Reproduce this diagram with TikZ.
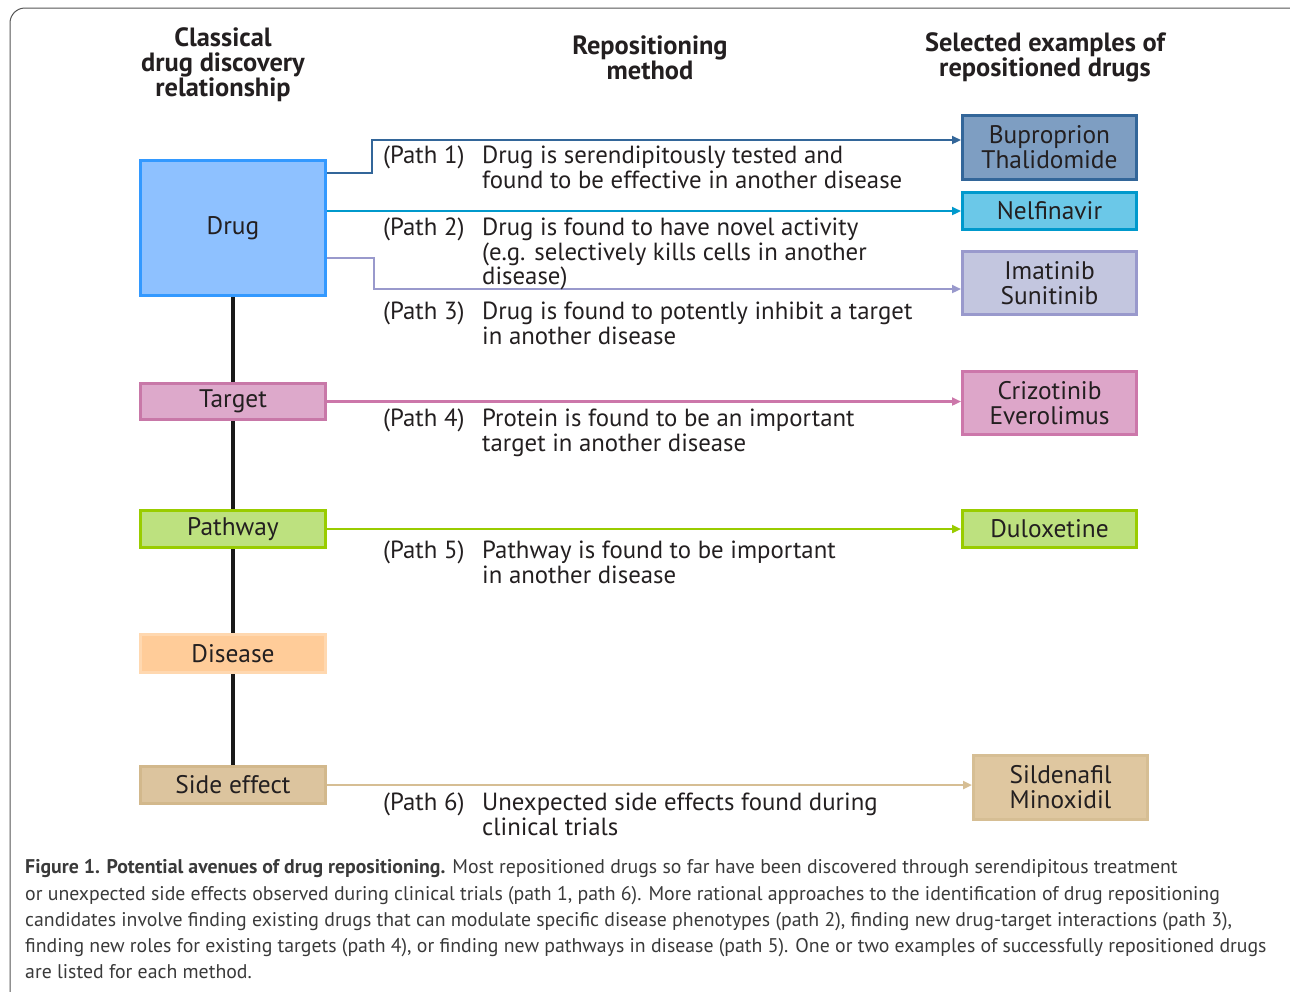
\documentclass[tikz,border=0pt]{standalone}
\usepackage{fontspec}
\setmainfont{PT Sans}
\usetikzlibrary{arrows.meta,calc}
\definecolor{txt}{HTML}{231F20}
\definecolor{capc}{HTML}{3A3A3A}
\definecolor{drugF}{HTML}{8EC1FF}\definecolor{drugB}{HTML}{3399FF}
\definecolor{targF}{HTML}{DDA9CB}\definecolor{targB}{HTML}{C878A8}
\definecolor{pathF}{HTML}{BDE17F}\definecolor{pathB}{HTML}{99CC00}
\definecolor{disF}{HTML}{FFCC99}\definecolor{disB}{HTML}{FFD8B0}
\definecolor{sideF}{HTML}{DCC49E}\definecolor{sideB}{HTML}{D2B88C}
\definecolor{bupF}{HTML}{7E9EC2}\definecolor{bupB}{HTML}{336699}
\definecolor{nelF}{HTML}{6BC8E8}\definecolor{nelB}{HTML}{0099CC}
\definecolor{imaF}{HTML}{C3C6DF}\definecolor{imaB}{HTML}{9999CC}
\definecolor{crzF}{HTML}{DDA6C9}\definecolor{crzB}{HTML}{CC77AA}
\definecolor{silF}{HTML}{DFC7A0}\definecolor{silB}{HTML}{D6BE94}
\definecolor{frameC}{HTML}{555555}
\tikzset{
  bx/.style={draw, line width=3pt, inner sep=0pt, align=center, text=txt,
    font=\fontsize{25.4}{25}\selectfont},
  lbx/.style={bx, minimum width=185pt},
  rbx/.style={bx, minimum width=174pt},
  hdr/.style={align=center, text=txt, font=\bfseries\fontsize{26.4}{25}\selectfont, inner sep=0pt},
  ptxt/.style={align=left, text=txt, font=\fontsize{24.8}{24.5}\selectfont, inner sep=0pt, anchor=north west},
  conn/.style={line width=2.2pt, -{Triangle[length=9pt,width=8pt]}},
  chain/.style={line width=3.5pt, black!90}
}
\begin{document}
\begin{tikzpicture}[x=1pt,y=-1pt]
\useasboundingbox (0,0) rectangle (1290,991);
\draw[frameC, line width=1pt, rounded corners=15pt] (10,8) rectangle (1310,1010);

% headers
\node[hdr] (h1) at (223,65) {Classical\\drug discovery\\relationship};
\node[hdr] (h2) at (650,57.5) {Repositioning\\method};
\node[hdr] (h3) at (1045,57.5) {Selected examples of\\repositioned drugs};

% left boxes
\node[lbx, fill=drugF, draw=drugB, minimum height=135pt] (drug) at (233,228) {Drug};
\node[lbx, fill=targF, draw=targB, minimum height=36pt] (targ) at (233,401.5) {Target};
\node[lbx, fill=pathF, draw=pathB, minimum height=37pt] (path) at (233,529) {Pathway};
\node[lbx, fill=disF, draw=disB, minimum height=38pt] (dis) at (233,653.5) {Disease};
\node[lbx, fill=sideF, draw=sideB, minimum height=37pt] (side) at (233,785) {Side effect};

% chain
\draw[chain] (drug.south) -- (targ.north);
\draw[chain] (targ.south) -- (path.north);
\draw[chain] (path.south) -- (dis.north);
\draw[chain] (dis.south) -- (side.north);

% right boxes
\node[rbx, fill=bupF, draw=bupB, minimum height=64pt] (bup) at (1049.5,147.5) {Buproprion\\Thalidomide};
\node[rbx, fill=nelF, draw=nelB, minimum height=37pt] (nel) at (1049.5,211) {Nelfinavir};
\node[rbx, fill=imaF, draw=imaB, minimum height=63pt] (ima) at (1049.5,283) {Imatinib\\Sunitinib};
\node[rbx, fill=crzF, draw=crzB, minimum height=63pt] (crz) at (1049.5,403) {Crizotinib\\Everolimus};
\node[rbx, fill=pathF, draw=pathB, minimum height=37pt] (dul) at (1049.5,529) {Duloxetine};
\node[rbx, fill=silF, draw=silB, minimum height=64pt] (sil) at (1060.5,787.5) {Sildenafil\\Minoxidil};

% connectors
\draw[conn, bupB] ($(drug.east)+(0,-55)$) -| (372,140) -- ($(bup.west)+(0,-7.5)$);
\draw[conn, nelB] (drug.east |- nel.west) -- (nel.west);
\draw[conn, imaB] ($(drug.east)+(0,30)$) -| (374,289) -- ($(ima.west)+(0,6)$);
\draw[conn, crzB] (targ.east) -- (crz.west |- targ.east);
\draw[conn, pathB] (path.east) -- (dul.west);
\draw[conn, silB] (side.east) -- (sil.west |- side.east);

% path texts
\node[ptxt] (l1) at (383,146) {(Path 1)};
\node[ptxt] (t1) at (482,146) {Drug is serendipitously tested and\\found to be effective in another disease};
\node[ptxt] (l2) at (383,218) {(Path 2)};
\node[ptxt] (t2) at (482,218) {Drug is found to have novel activity\\(e.g. selectively kills cells in another\\disease)};
\node[ptxt] (l3) at (383,302) {(Path 3)};
\node[ptxt] (t3) at (482,302) {Drug is found to potently inhibit a target\\in another disease};
\node[ptxt] (l4) at (383,409) {(Path 4)};
\node[ptxt] (t4) at (482,409) {Protein is found to be an important\\target in another disease};
\node[ptxt] (l5) at (383,541) {(Path 5)};
\node[ptxt] (t5) at (482,541) {Pathway is found to be important\\in another disease};
\node[ptxt] (l6) at (383,793) {(Path 6)};
\node[ptxt] (t6) at (482,793) {Unexpected side effects found during\\clinical trials};

% caption
\node[anchor=north west, align=left, inner sep=0pt, text=capc, font=\fontsize{19.8}{26.25}\selectfont] (cap) at (25,859.5)
{\textbf{Figure 1. Potential avenues of drug repositioning.} Most repositioned drugs so far have been discovered through serendipitous treatment\\
or unexpected side effects observed during clinical trials (path 1, path 6). More rational approaches to the identification of drug repositioning\\
candidates involve finding existing drugs that can modulate specific disease phenotypes (path 2), finding new drug-target interactions (path 3),\\
finding new roles for existing targets (path 4), or finding new pathways in disease (path 5). One or two examples of successfully repositioned drugs\\
are listed for each method.};
\end{tikzpicture}
\end{document}
